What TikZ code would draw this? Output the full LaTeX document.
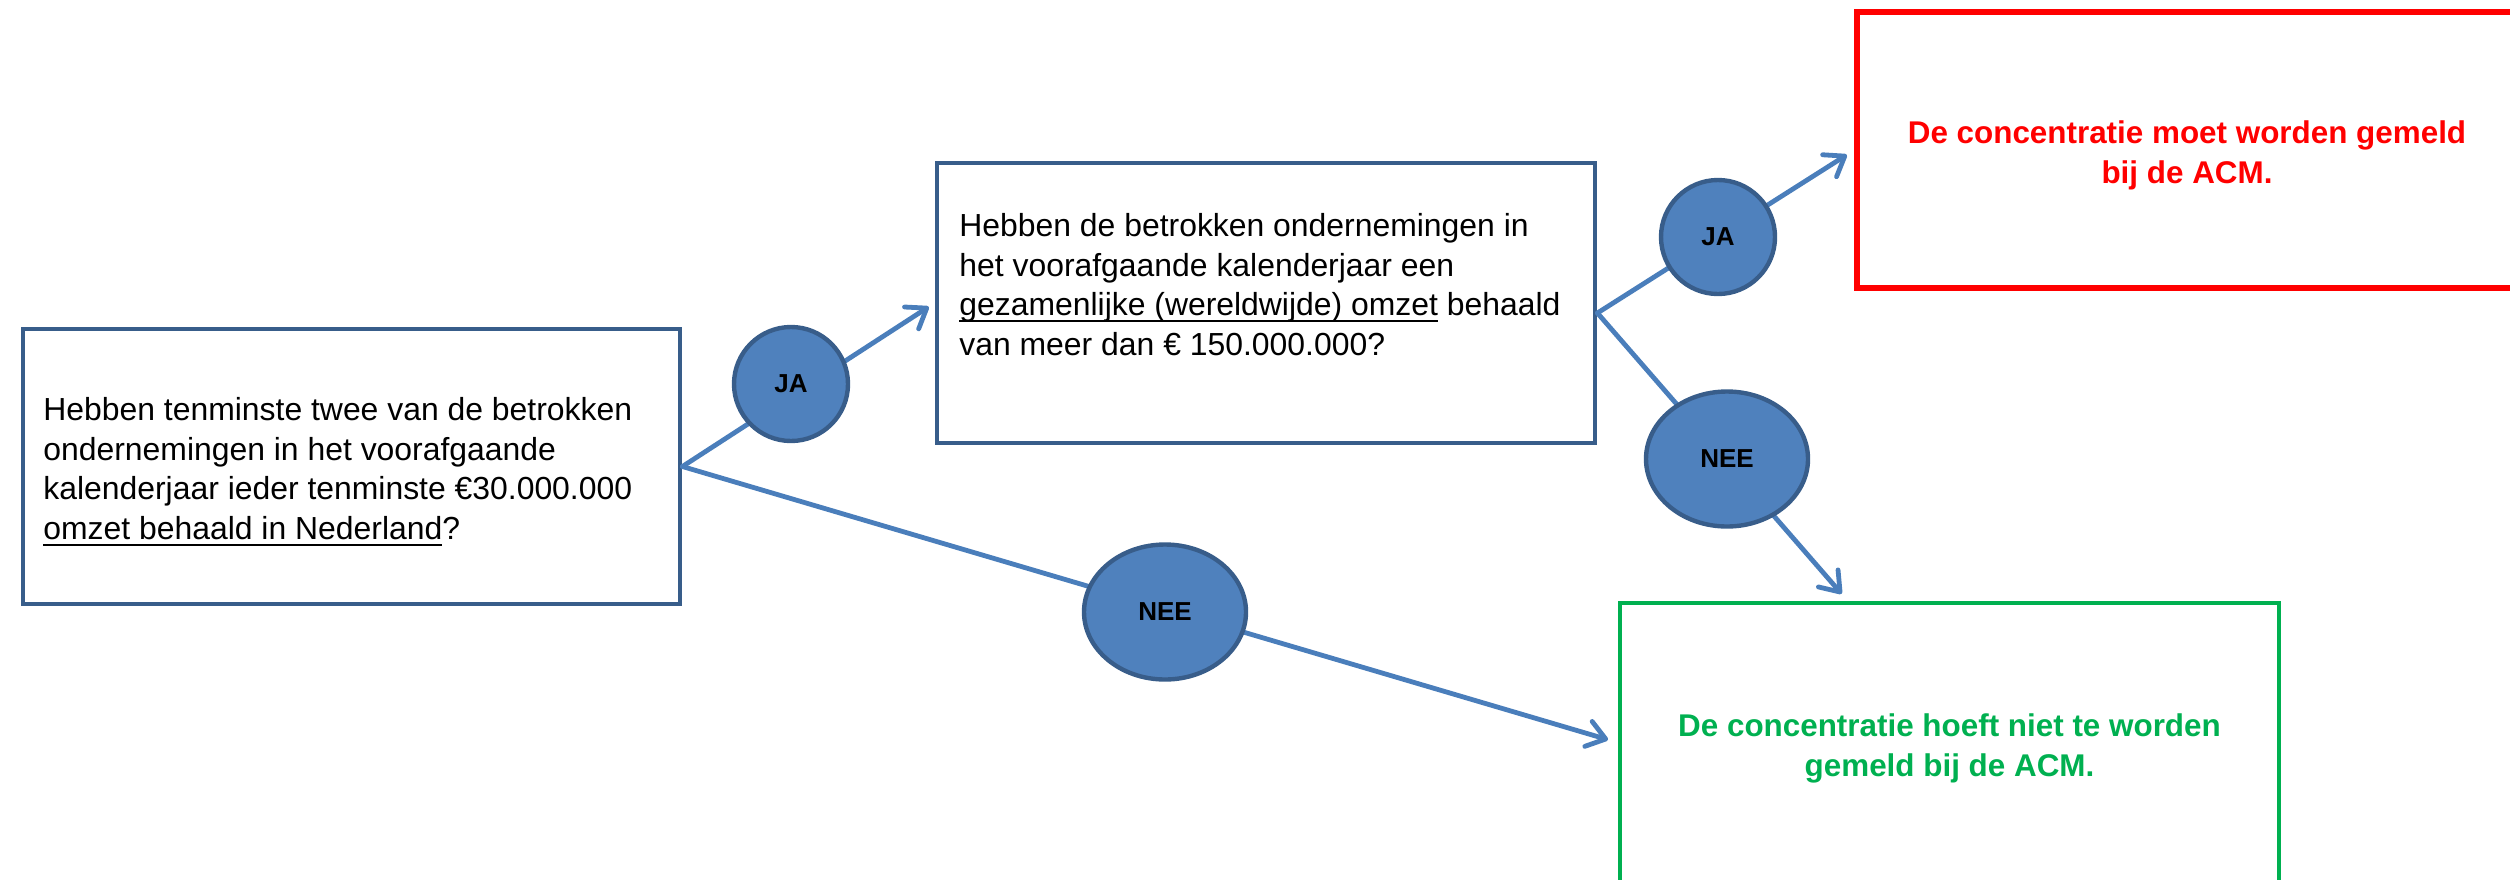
\documentclass[tikz,border=0pt]{standalone}
\usepackage{fontspec}
\setmainfont{Liberation Sans}
\usetikzlibrary{arrows.meta,shapes.geometric}
\definecolor{boxblue}{HTML}{385D8A}
\definecolor{lineblue}{HTML}{4A7EBB}
\definecolor{fillblue}{HTML}{4F81BD}
\definecolor{acmred}{HTML}{FF0000}
\definecolor{acmgreen}{HTML}{00B050}
\newcommand\myul[1]{\leavevmode\setbox0\hbox{#1}\rlap{\rule[-3.2pt]{\wd0}{1pt}}\box0\relax}
\begin{document}
\begin{tikzpicture}[x=0.5pt,y=-0.5pt,
  qbox/.style={draw=boxblue, line width=2.4pt, rectangle, inner sep=0pt},
  rbox/.style={draw=acmred, line width=2.6pt, rectangle, inner sep=0pt},
  gbox/.style={draw=acmgreen, line width=2.4pt, rectangle, inner sep=0pt},
  qtext/.style={inner sep=0pt, align=left, anchor=north west,
    font=\fontsize{15.95pt}{19.8pt}\selectfont},
  atext/.style={inner sep=0pt, align=center, anchor=north,
    font=\fontsize{15.7pt}{20pt}\selectfont\bfseries},
  conn/.style={draw=lineblue, line width=2.4pt, line cap=round,
    -{Straight Barb[length=9pt,width=13pt,round]}},
  jalabel/.style={circle, draw=boxblue, fill=fillblue, line width=2.2pt,
    minimum size=57pt, inner sep=0pt, font=\fontsize{13pt}{15pt}\selectfont\bfseries},
  neelabel/.style={ellipse, draw=boxblue, fill=fillblue, line width=2.2pt,
    minimum width=81pt, minimum height=67.5pt, inner sep=0pt,
    font=\fontsize{13pt}{15pt}\selectfont\bfseries}
]
\useasboundingbox (0,0) rectangle (2510,879);
\clip (0,0) rectangle (2510,879);

% boxes
\node[qbox, minimum width=328.5pt, minimum height=137.5pt] (box1) at (351.5,466.5) {};
\node[qbox, minimum width=329pt, minimum height=140pt] (box2) at (1266,303) {};
\node[rbox, minimum width=330pt, minimum height=138pt] (red) at (2187,150) {};
\node[gbox, minimum width=329.5pt, minimum height=139.5pt] (green) at (1949.5,742.5) {};

% texts
\node[qtext] (t1) at (43,397) {Hebben tenminste twee van de betrokken\\
ondernemingen in het voorafgaande\\
kalenderjaar ieder tenminste €30.000.000\\
\myul{omzet behaald in Nederland}?};
\node[qtext] (t2) at (959,213) {Hebben de betrokken ondernemingen in\\
het voorafgaande kalenderjaar een\\
\myul{gezamenlijke (wereldwijde) omzet} behaald\\
van meer dan € 150.000.000?};
\node[atext, text=acmred] (t3) at (2187,120) {De concentratie moet worden gemeld\\bij de ACM.};
\node[atext, text=acmgreen] (t4) at (1949.5,713) {De concentratie hoeft niet te worden\\gemeld bij de ACM.};

% connectors
\coordinate (b2out) at ([yshift=-5pt]box2.east);
\coordinate (gin) at ([xshift=-51pt]green.north);
\draw[conn, shorten >=3.5pt] (box1.east) -- (box2.west);
\draw[conn, shorten >=5pt] (box1.east) -- (green.west);
\draw[conn, shorten >=4.5pt] (b2out) -- (red.west);
\draw[conn, shorten >=4.5pt] (b2out) -- (gin);

% labels
\node[jalabel] (ja1) at (791,384) {JA};
\node[neelabel] (nee1) at (1165,612) {NEE};
\node[jalabel] (ja2) at (1718,237) {JA};
\node[neelabel] (nee2) at (1727,459) {NEE};
\end{tikzpicture}
\end{document}
